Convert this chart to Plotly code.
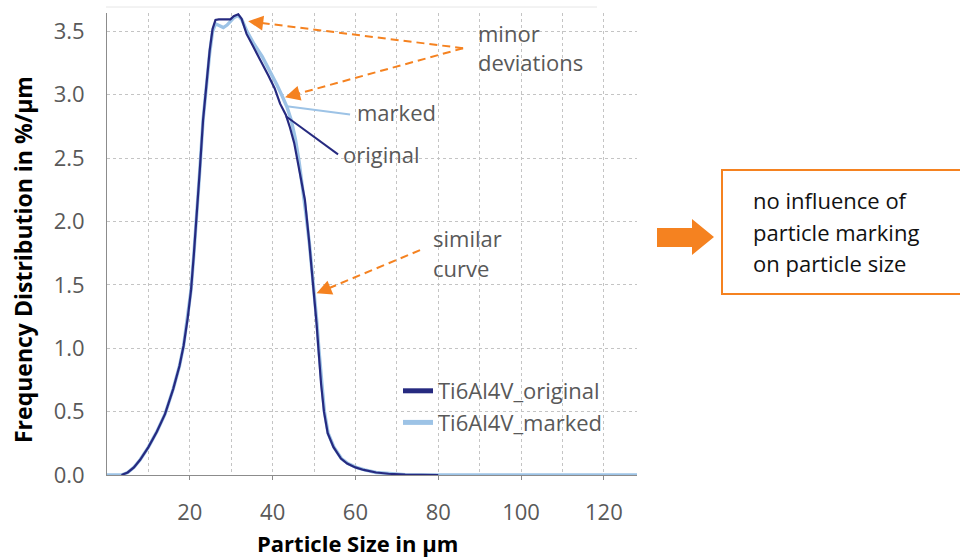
import plotly.graph_objects as go

# ---- data: particle size distribution (µm vs %/µm) ----
size_original = [3.5, 5, 6.5, 8, 10, 12, 14, 16, 17.5, 18.5, 19.5, 20.3, 21, 21.7, 22.4, 23.2,
                 24, 24.8, 25.5, 26.2, 27, 28.5, 29.8, 30.6, 31.7, 32.5, 33.7, 35, 37, 39,
                 40.5, 41.8, 43.2, 44.2, 45.2, 46.2, 47.0, 47.8, 48.8, 49.8, 50.6, 51.1,
                 51.7, 52.4, 53.3, 54.7, 56.5, 58, 60, 62, 65, 68, 72, 80]
freq_original = [0.0, 0.02, 0.06, 0.12, 0.22, 0.34, 0.48, 0.68, 0.86, 1.02, 1.24, 1.46, 1.75,
                 2.05, 2.4, 2.8, 3.1, 3.35, 3.52, 3.59, 3.595, 3.595, 3.595, 3.62, 3.635, 3.6,
                 3.48, 3.4, 3.28, 3.15, 3.05, 2.93, 2.84, 2.74, 2.62, 2.45, 2.3, 2.17, 1.85,
                 1.5, 1.2, 0.98, 0.72, 0.5, 0.33, 0.22, 0.13, 0.09, 0.06, 0.04, 0.02, 0.01,
                 0.003, 0.0]

size_marked = [0, 3.5, 5, 6.5, 8, 10, 12, 14, 16, 17.5, 18.5, 19.5, 20.3, 21, 21.7, 22.4, 23.2,
               24, 24.8, 25.5, 26.2, 27.2, 28.1, 29, 29.8, 30.7, 31.7, 32.6, 33.8, 35.5, 37.5,
               39.5, 41, 42.3, 43.5, 44.5, 45.5, 46.4, 47.2, 48, 48.9, 49.9, 50.7, 51.2, 51.8,
               52.5, 53.4, 54.8, 56.6, 58.2, 60.2, 62.2, 65, 68, 72, 80, 128]
freq_marked = [0.0, 0.0, 0.02, 0.06, 0.12, 0.22, 0.34, 0.48, 0.68, 0.86, 1.02, 1.24, 1.46, 1.75,
               2.05, 2.4, 2.8, 3.1, 3.33, 3.5, 3.56, 3.545, 3.53, 3.55, 3.575, 3.61, 3.625, 3.59,
               3.5, 3.4, 3.3, 3.18, 3.08, 2.99, 2.9, 2.8, 2.65, 2.47, 2.28, 2.07, 1.82, 1.5,
               1.2, 0.98, 0.72, 0.5, 0.33, 0.22, 0.13, 0.09, 0.06, 0.04, 0.02, 0.01, 0.003,
               0.0, 0.0]

x_ticks = [20, 40, 60, 80, 100, 120]
y_ticks = [0.0, 0.5, 1.0, 1.5, 2.0, 2.5, 3.0, 3.5]

# ---- styling ----
FONT = "Open Sans"
TXT = 22
GREY_TXT = "#595959"
NAVY = "#262a80"
LIGHT = "#9dc3e6"
ORANGE = "#F58220"
GRID = "#c4c4c4"

W, H = 960, 560
L, R, T, B = 107, 323, 13, 85
X_RANGE = [0, 128]
Y_RANGE = [0, 3.645]
PW, PH = W - L - R, H - T - B


def px_x(px):
    """page pixel column -> paper x"""
    return (px - L) / PW


def px_y(py):
    """page pixel row -> paper y"""
    return (H - B - py) / PH


def data_to_px(x, y):
    return (L + (x - X_RANGE[0]) / (X_RANGE[1] - X_RANGE[0]) * PW,
            H - B - (y - Y_RANGE[0]) / (Y_RANGE[1] - Y_RANGE[0]) * PH)


fig = go.Figure()
fig.add_trace(go.Scatter(x=size_marked, y=freq_marked, mode="lines", name="Ti6Al4V_marked",
                         line=dict(color=LIGHT, width=3.4), legendrank=2, cliponaxis=False))
fig.add_trace(go.Scatter(x=size_original, y=freq_original, mode="lines", name="Ti6Al4V_original",
                         line=dict(color=NAVY, width=2.2), legendrank=1, cliponaxis=False))

shapes = []
annotations = []


def label(text, left_px, mid_py, size=TXT, color=GREY_TXT):
    annotations.append(dict(text=text, x=px_x(left_px), y=px_y(mid_py), xref="paper", yref="paper",
                            xanchor="left", yanchor="middle", showarrow=False,
                            font=dict(family=FONT, size=size, color=color)))


def dashed_arrow(tail, tip):
    """dashed orange line from tail to tip (data coords) finished by a filled head"""
    tx, ty = data_to_px(*tail)
    hx, hy = data_to_px(*tip)
    dx, dy = tx - hx, ty - hy
    n = (dx * dx + dy * dy) ** 0.5
    ux, uy = dx / n, dy / n
    # stop the dashes a little short of the head
    ex, ey = hx + ux * 10, hy + uy * 10
    shapes.append(dict(type="line", xref="paper", yref="paper",
                       x0=px_x(tx), y0=px_y(ty), x1=px_x(ex), y1=px_y(ey),
                       line=dict(color=ORANGE, width=2, dash="8px,5px")))
    annotations.append(dict(x=tip[0], y=tip[1], xref="x", yref="y", text="", showarrow=True,
                            ax=ux * 14, ay=uy * 14, axref="pixel", ayref="pixel",
                            arrowhead=2, arrowsize=1.5, arrowwidth=2, arrowcolor=ORANGE,
                            standoff=0))


# callouts on the curves
dashed_arrow((86.0, 3.367), (34.1, 3.58))
dashed_arrow((86.0, 3.367), (43.0, 2.98))
dashed_arrow((75.6, 1.774), (50.6, 1.433))
label("minor", 476, 33)
label("deviations", 476, 62)
label("similar", 431, 238)
label("curve", 431, 268)

# leader lines naming the two curves
shapes.append(dict(type="line", xref="x", yref="y", x0=43.4, y0=2.91, x1=58.7, y1=2.845,
                   line=dict(color=LIGHT, width=2)))
shapes.append(dict(type="line", xref="x", yref="y", x0=43.2, y0=2.83, x1=55.8, y1=2.53,
                   line=dict(color=NAVY, width=2)))
label("marked", 355, 112)
label("original", 341, 154)

# conclusion box with block arrow
arrow_pts = [(657, 228), (692, 228), (692, 219), (714, 237), (692, 255), (692, 247), (657, 247)]
path = "M " + " L ".join(f"{px_x(a):.5f},{px_y(b):.5f}" for a, b in arrow_pts) + " Z"
shapes.append(dict(type="path", xref="paper", yref="paper", path=path,
                   fillcolor=ORANGE, line=dict(width=0)))
shapes.append(dict(type="rect", xref="paper", yref="paper",
                   x0=px_x(722), x1=px_x(963), y0=px_y(294), y1=px_y(170),
                   line=dict(color=ORANGE, width=2)))
for txt, yy in [("no influence of", 200), ("particle marking", 232), ("on particle size", 263)]:
    label(txt, 751, yy, size=TXT, color="#111111")

# axis titles
annotations.append(dict(text="<b>Particle Size in µm</b>", x=px_x(357), y=px_y(543),
                        xref="paper", yref="paper", xanchor="center", yanchor="middle",
                        showarrow=False, font=dict(family=FONT, size=22, color="#000000")))
annotations.append(dict(text="<b>Frequency Distribution in %/µm</b>", x=px_x(23), y=px_y(260),
                        xref="paper", yref="paper", xanchor="center", yanchor="middle",
                        textangle=-90, showarrow=False,
                        font=dict(family=FONT, size=23, color="#000000")))

# faint rule along the top edge
shapes.append(dict(type="line", xref="paper", yref="paper", x0=px_x(106), x1=px_x(597),
                   y0=px_y(7), y1=px_y(7), line=dict(color="#e6e6e6", width=1)))

fig.update_layout(
    width=W, height=H,
    margin=dict(l=L, r=R, t=T, b=B, pad=0),
    paper_bgcolor="white", plot_bgcolor="white",
    font=dict(family=FONT, size=TXT, color=GREY_TXT),
    shapes=shapes, annotations=annotations,
    legend=dict(x=px_x(398), y=px_y(370), xanchor="left", yanchor="top",
                bgcolor="rgba(0,0,0,0)", font=dict(family=FONT, size=TXT, color=GREY_TXT),
                tracegroupgap=0, itemsizing="constant"),
    xaxis=dict(range=X_RANGE, tickvals=x_ticks, showgrid=True, gridcolor=GRID, griddash="dot",
               gridwidth=1, showline=True, linecolor="#8c8c8c", linewidth=1,
               ticks="outside", ticklen=4, tickcolor="#8c8c8c", ticklabelstandoff=14,
               minor=dict(dtick=10, tick0=0, showgrid=True, gridcolor=GRID, griddash="dot"),
               zeroline=False, layer="below traces", automargin=False),
    yaxis=dict(range=Y_RANGE, tickvals=y_ticks, tickformat=".1f", showgrid=True, gridcolor=GRID,
               griddash="dot", gridwidth=1, showline=True, linecolor="#8c8c8c", linewidth=1,
               ticks="", ticklabelstandoff=17, zeroline=False, layer="below traces",
               automargin=False),
)

fig.write_html("out.html")
